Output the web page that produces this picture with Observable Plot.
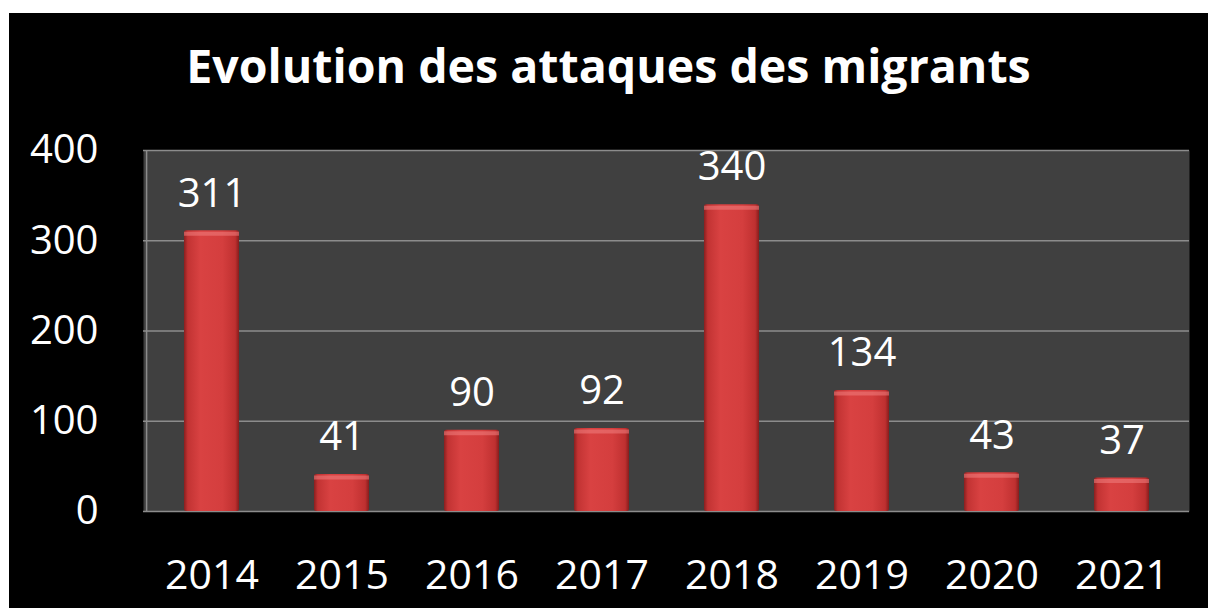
<!DOCTYPE html>
<html>
<head>
<meta charset="utf-8">
<script src="https://cdn.jsdelivr.net/npm/d3@7"></script>
<script src="https://cdn.jsdelivr.net/npm/@observablehq/plot@0.6"></script>
<style>
  html, body { margin: 0; padding: 0; background: #ffffff; width: 1208px; height: 609px; overflow: hidden; }
  #card { position: absolute; left: 9px; top: 13px; width: 1199px; height: 595px; background: #000000; }
  #title { position: absolute; left: 0; top: 0; width: 1199px; height: 97px; text-align: center;
           font-family: "Open Sans", sans-serif; font-weight: bold; font-size: 46.5px; color: #ffffff;
           line-height: 1; padding-top: 29px; box-sizing: border-box; white-space: nowrap; }
  #chart { position: absolute; left: 0; top: 97px; }
</style>
</head>
<body>
<div id="card">
  <div id="title">Evolution des attaques des migrants</div>
  <div id="chart"></div>
</div>
<script>
const years = ["2014", "2015", "2016", "2017", "2018", "2019", "2020", "2021"];
const attacks = [311, 41, 90, 92, 340, 134, 43, 37];
const yTicks = [0, 100, 200, 300, 400];

const data = years.map((y, i) => ({year: y, value: attacks[i]}));

const chart = Plot.plot({
  width: 1199,
  height: 498,
  marginLeft: 134,
  marginRight: 19,
  marginTop: 40,
  marginBottom: 97,
  style: {background: "transparent", fontFamily: "Open Sans, sans-serif", color: "#ffffff"},
  x: {domain: years, paddingInner: 0.58, paddingOuter: 0.29, label: null},
  y: {domain: [0, 400], ticks: yTicks, label: null},
  marks: [
    Plot.frame({fill: "#404040", stroke: null}),
    Plot.ruleY(yTicks, {stroke: "#8c8c8c", strokeWidth: 1.5}),
    Plot.ruleX([0], {x: () => years[0], dx: -65.4, y1: 0, y2: 400, stroke: "#8c8c8c", strokeWidth: 1.5}),
    Plot.barY(data, {x: "year", y: "value", fill: "url(#barGrad)", rx: 2}),
    Plot.tickY(data, {x: "year", y: "value", stroke: "#f08080", strokeOpacity: 0.55, strokeWidth: 4, dy: 3}),
    Plot.text(data, {x: "year", y: "value", text: d => String(d.value), dy: -37, fill: "#ffffff", fontSize: 40}),
    Plot.axisX({tickSize: 0, tickPadding: 48, fontSize: 41, fill: "#ffffff", label: null}),
    Plot.axisY({ticks: yTicks, tickSize: 0, tickPadding: 45, fontSize: 40, fill: "#ffffff", label: null})
  ]
});

const defs = d3.select(chart).insert("defs", ":first-child");
const g = defs.append("linearGradient").attr("id", "barGrad").attr("x1", "0").attr("x2", "1").attr("y1", "0").attr("y2", "0");
[["0%", "#8a1f1f"], ["7%", "#c23333"], ["30%", "#d94242"], ["70%", "#d43e3e"], ["93%", "#bf3030"], ["100%", "#861c1c"]]
  .forEach(([o, c]) => g.append("stop").attr("offset", o).attr("stop-color", c));

document.getElementById("chart").appendChild(chart);
</script>
</body>
</html>
